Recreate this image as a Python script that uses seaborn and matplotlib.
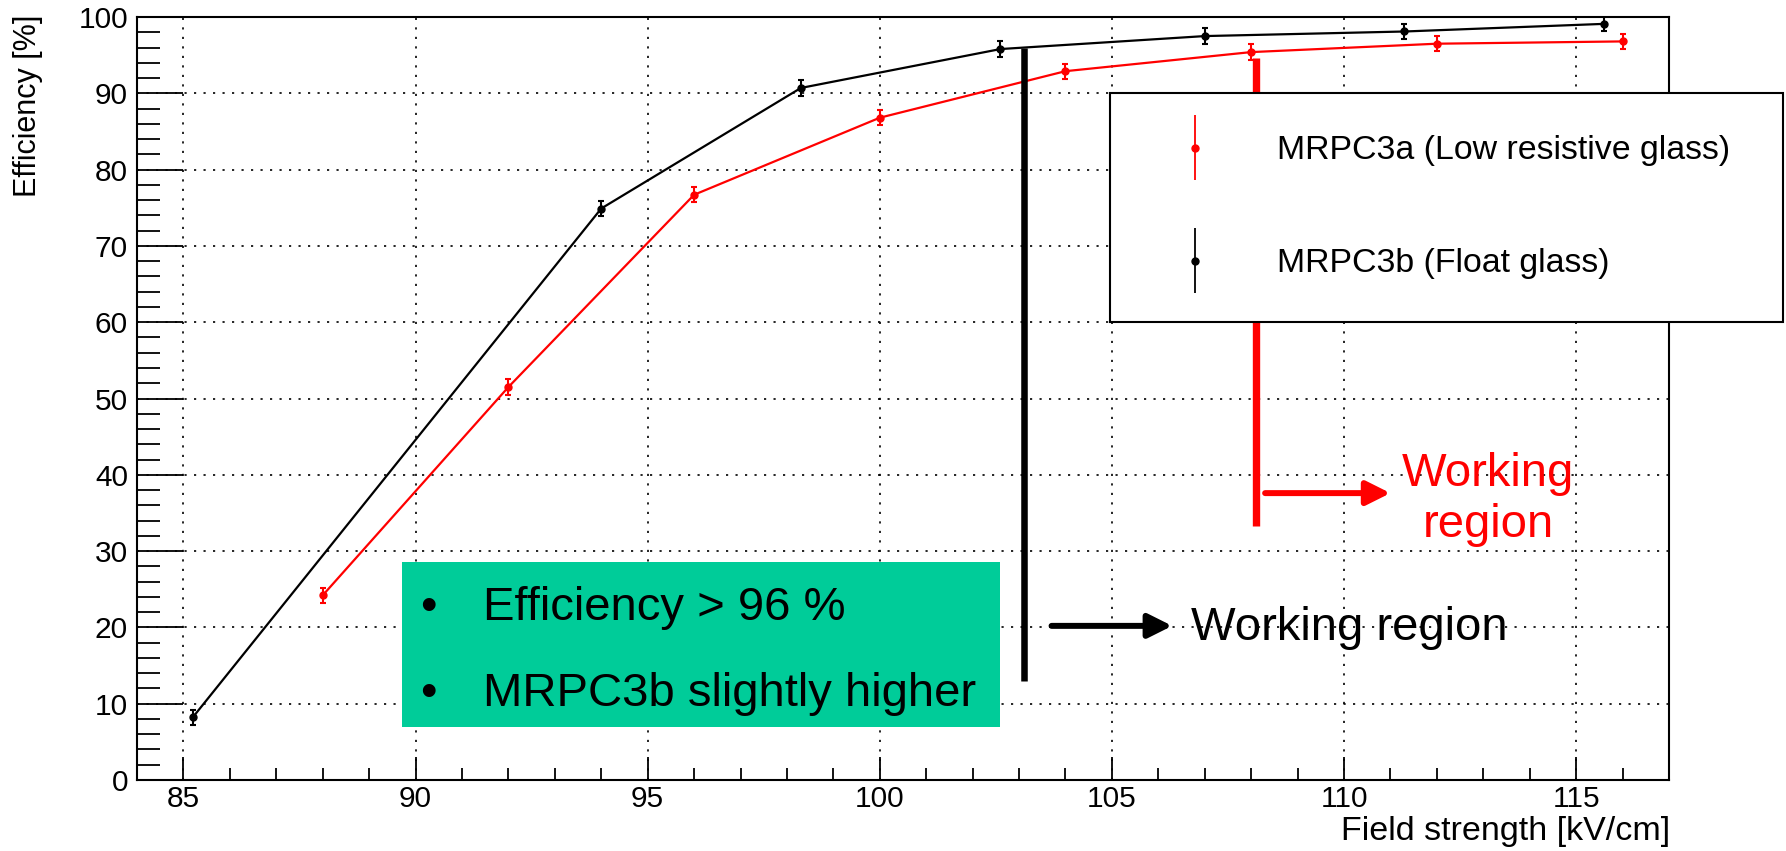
import numpy as np
import matplotlib
matplotlib.use("Agg")
import matplotlib.pyplot as plt
import seaborn as sns
from matplotlib.container import ErrorbarContainer
from matplotlib.legend_handler import HandlerErrorbar
from matplotlib.patches import Rectangle
from matplotlib.ticker import MultipleLocator

sns.set_theme(style="ticks")
plt.rcParams['font.family'] = ['Liberation Sans', 'DejaVu Sans']
plt.rcParams['text.color'] = 'black'
plt.rcParams['axes.labelcolor'] = 'black'
plt.rcParams['xtick.color'] = 'black'
plt.rcParams['ytick.color'] = 'black'

# MRPC3a (low resistive glass) - red
field_a = [88.0, 92.0, 96.0, 100.0, 104.0, 108.0, 112.0, 116.0]
eff_a = [24.2, 51.5, 76.7, 86.8, 92.9, 95.4, 96.5, 96.8]
err_a = [1.0, 1.0, 1.0, 1.0, 1.0, 1.0, 1.0, 1.0]

# MRPC3b (float glass) - black
field_b = [85.2, 94.0, 98.3, 102.6, 107.0, 111.3, 115.6]
eff_b = [8.2, 74.9, 90.7, 95.8, 97.5, 98.1, 99.1]
err_b = [1.0, 1.0, 1.0, 1.0, 1.0, 1.0, 1.0]

series_labels = ["MRPC3a (Low resistive glass)", "MRPC3b (Float glass)"]
series_colors = ["#ff0000", "#000000"]
box_lines = ["Efficiency > 96 %", "MRPC3b slightly higher"]

W, H = 1786, 851
fig = plt.figure(figsize=(W / 100, H / 100), dpi=100)
ax = fig.add_axes([137 / W, 1 - 780 / H, (1669 - 137) / W, (780 - 17) / H])

# data curves
for xs, ys, es, col in [(field_a, eff_a, err_a, series_colors[0]),
                        (field_b, eff_b, err_b, series_colors[1])]:
    sns.lineplot(x=xs, y=ys, color=col, lw=1.6, estimator=None, sort=False,
                 ax=ax, zorder=3)
    ax.errorbar(xs, ys, yerr=es, fmt='o', ms=5, color=col, elinewidth=1.5,
                capsize=2.0, capthick=1.5, zorder=3)

# green comment box
ax.add_patch(Rectangle((89.7, 7.0), 12.9, 21.6, facecolor='#00cc99',
                       edgecolor='none', zorder=4))
for yb, line in zip([21.0, 9.7], box_lines):
    ax.text(90.27, yb, "\u2022", ha='center', va='baseline', fontsize=34,
            color='black', zorder=5)
    ax.text(91.45, yb, line, ha='left', va='baseline', fontsize=34,
            color='black', zorder=5)

# working region markers
ax.plot([103.1, 103.1], [96.0, 13.0], color='black', lw=4.7,
        solid_capstyle='butt', zorder=4)
ax.annotate("", xy=(106.3, 20.2), xytext=(103.7, 20.2),
            arrowprops=dict(arrowstyle='-|>', color='black', lw=4.3,
                            mutation_scale=36, shrinkA=0, shrinkB=0), zorder=4)
ax.text(106.7, 18.4, "Working region", ha='left', va='baseline', fontsize=34,
        color='black', zorder=5)

ax.plot([108.1, 108.1], [94.6, 33.3], color='#ff0000', lw=5.3,
        solid_capstyle='butt', zorder=4)
ax.annotate("", xy=(111.0, 37.6), xytext=(108.3, 37.6),
            arrowprops=dict(arrowstyle='-|>', color='#ff0000', lw=4.3,
                            mutation_scale=36, shrinkA=0, shrinkB=0), zorder=4)
ax.text(113.1, 36.8, "Working\nregion", ha='center', va='center', fontsize=34,
        color='#ff0000', linespacing=1.2, zorder=5)

# axes styling (ROOT look)
ax.set_xlim(84, 117)
ax.set_ylim(0, 100)
ax.xaxis.set_major_locator(MultipleLocator(5))
ax.xaxis.set_minor_locator(MultipleLocator(1))
ax.yaxis.set_major_locator(MultipleLocator(10))
ax.yaxis.set_minor_locator(MultipleLocator(2))
ax.tick_params(axis='x', which='major', direction='in', length=16.5, width=1.3,
               labelsize=21.5, pad=3.5, colors='black')
ax.tick_params(axis='x', which='minor', direction='in', length=8.3, width=1.3)
ax.tick_params(axis='y', which='major', direction='in', length=33, width=1.3,
               labelsize=21.5, pad=6.5, colors='black')
ax.tick_params(axis='y', which='minor', direction='in', length=16.5, width=1.3)
ax.grid(which='major', color='black', lw=1.2, linestyle=(0, (1.3, 4.4)))
ax.set_axisbelow(True)
for sp in ax.spines.values():
    sp.set_linewidth(1.5)
    sp.set_color('black')
ax.set_xlabel("")
ax.set_ylabel("")

fig.text(1670 / W, 1 - 840 / H, "Field strength [kV/cm]", ha='right',
         va='baseline', fontsize=24.5, color='black')
fig.text(28 / W, 1 - 15 / H, "Efficiency [%]", rotation=90, ha='center',
         va='top', fontsize=22, color='black')

# legend with ROOT-style error bar entries
proxies = []
for col in series_colors:
    proxies.append(ax.errorbar([np.nan], [np.nan], yerr=[1.0], fmt='o', ms=5,
                               color=col, elinewidth=1.3, capsize=0))
leg = ax.legend(proxies, series_labels, loc='upper left',
                bbox_to_anchor=(1110 / W, 1 - 320 / H, 673 / W, 227 / H),
                bbox_transform=fig.transFigure, mode='expand', fontsize=24.4,
                frameon=True, fancybox=False, edgecolor='black', framealpha=1,
                borderpad=1.25, labelspacing=2.42, handlelength=2.52,
                handletextpad=1.16, borderaxespad=0,
                handler_map={ErrorbarContainer: HandlerErrorbar(yerr_size=0.95)})
leg.get_frame().set_linewidth(1.5)
for t in leg.get_texts():
    t.set_color('black')
leg.set_zorder(6)

fig.savefig("out.png", dpi=100)
